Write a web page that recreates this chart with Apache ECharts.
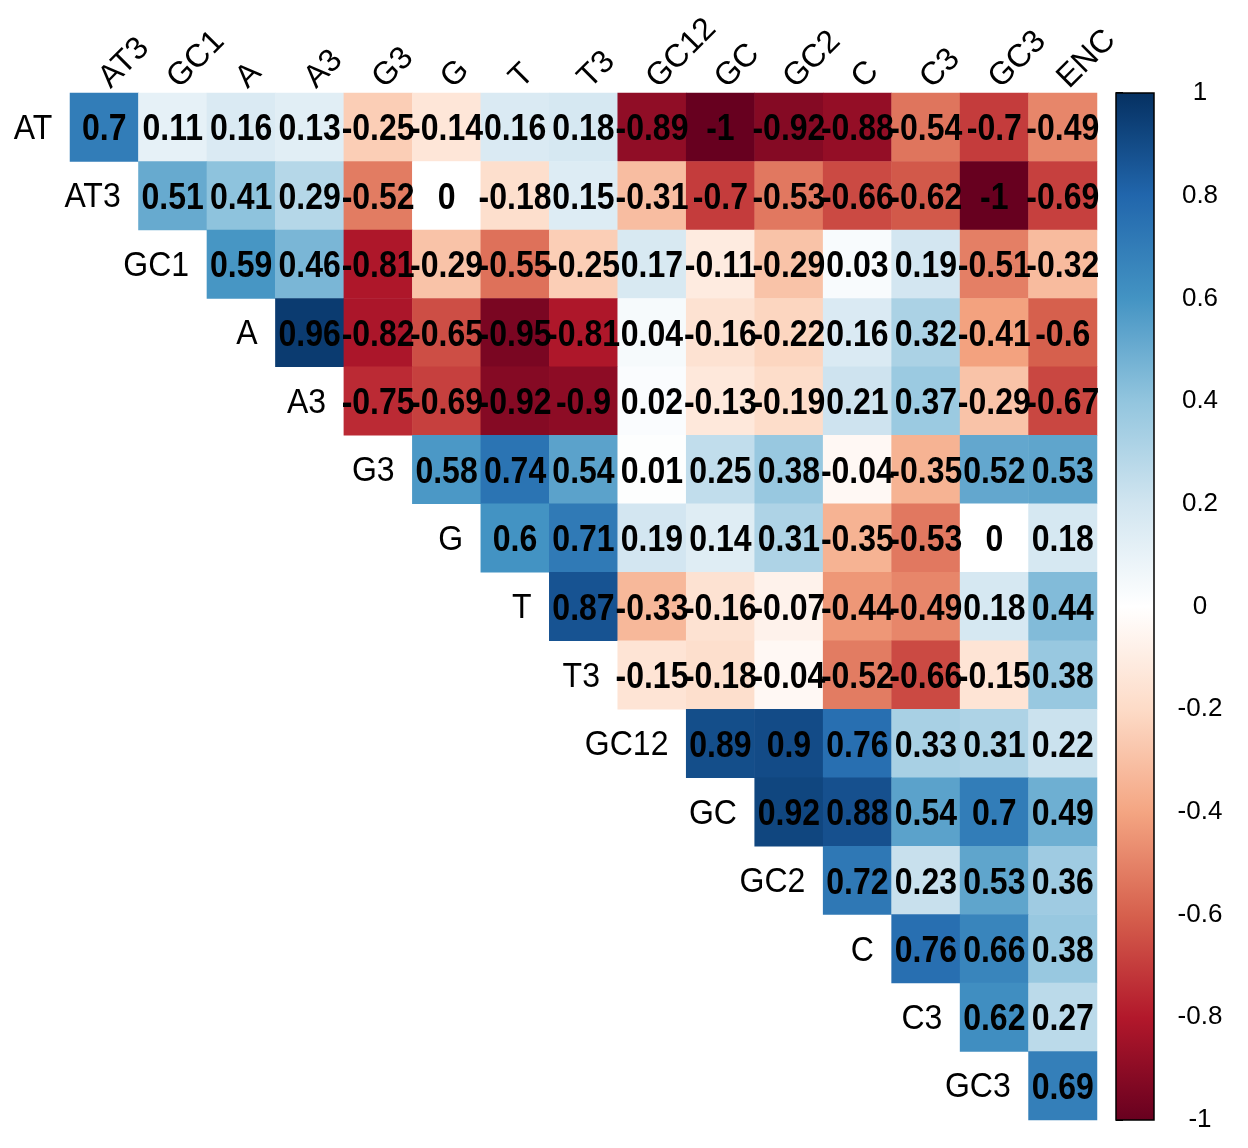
<!DOCTYPE html>
<html>
<head>
<meta charset="utf-8">
<style>
html, body { margin: 0; padding: 0; background: #fff; }
#main { width: 1248px; height: 1148px; }
</style>
<script src="https://cdn.jsdelivr.net/npm/echarts@6/dist/echarts.min.js"></script>
</head>
<body>
<div id="main"></div>
<script>
var chart = echarts.init(document.getElementById('main'));

var rowNames = ['AT', 'AT3', 'GC1', 'A', 'A3', 'G3', 'G', 'T', 'T3', 'GC12', 'GC', 'GC2', 'C', 'C3', 'GC3'];
var colNames = ['AT3', 'GC1', 'A', 'A3', 'G3', 'G', 'T', 'T3', 'GC12', 'GC', 'GC2', 'C', 'C3', 'GC3', 'ENC'];

// upper triangle: each row starts at its own diagonal column
var corrAT   = [0.7, 0.11, 0.16, 0.13, -0.25, -0.14, 0.16, 0.18, -0.89, -1, -0.92, -0.88, -0.54, -0.7, -0.49];
var corrAT3  = [0.51, 0.41, 0.29, -0.52, 0, -0.18, 0.15, -0.31, -0.7, -0.53, -0.66, -0.62, -1, -0.69];
var corrGC1  = [0.59, 0.46, -0.81, -0.29, -0.55, -0.25, 0.17, -0.11, -0.29, 0.03, 0.19, -0.51, -0.32];
var corrA    = [0.96, -0.82, -0.65, -0.95, -0.81, 0.04, -0.16, -0.22, 0.16, 0.32, -0.41, -0.6];
var corrA3   = [-0.75, -0.69, -0.92, -0.9, 0.02, -0.13, -0.19, 0.21, 0.37, -0.29, -0.67];
var corrG3   = [0.58, 0.74, 0.54, 0.01, 0.25, 0.38, -0.04, -0.35, 0.52, 0.53];
var corrG    = [0.6, 0.71, 0.19, 0.14, 0.31, -0.35, -0.53, 0, 0.18];
var corrT    = [0.87, -0.33, -0.16, -0.07, -0.44, -0.49, 0.18, 0.44];
var corrT3   = [-0.15, -0.18, -0.04, -0.52, -0.66, -0.15, 0.38];
var corrGC12 = [0.89, 0.9, 0.76, 0.33, 0.31, 0.22];
var corrGC   = [0.92, 0.88, 0.54, 0.7, 0.49];
var corrGC2  = [0.72, 0.23, 0.53, 0.36];
var corrC    = [0.76, 0.66, 0.38];
var corrC3   = [0.62, 0.27];
var corrGC3  = [0.69];

var corrRows = [corrAT, corrAT3, corrGC1, corrA, corrA3, corrG3, corrG, corrT, corrT3,
    corrGC12, corrGC, corrGC2, corrC, corrC3, corrGC3];

// RdBu, from -1 to 1
var colorList = ['#67001F', '#B2182B', '#D6604D', '#F4A582', '#FDDBC7', '#FFFFFF',
    '#D1E5F0', '#92C5DE', '#4393C3', '#2166AC', '#053061'];

var font = "'Liberation Sans', Arial, sans-serif";

var cells = [];
var rowLabels = [];
corrRows.forEach(function (vals, r) {
    vals.forEach(function (v, k) {
        cells.push([r + k, r, v]);
    });
    rowLabels.push([r, r]);
});

// colour bar gradient, top = 1
var stops = colorList.map(function (c, i) {
    return { offset: 1 - i / (colorList.length - 1), color: c };
}).reverse();

var option = {
    backgroundColor: '#fff',
    animation: false,
    grid: [
        { left: 70, top: 93, width: 1027, height: 1027 },
        { left: 1116, top: 93, width: 38, height: 1027 }
    ],
    xAxis: [{
        type: 'category',
        data: colNames,
        position: 'top',
        axisLine: { show: false },
        axisTick: { show: false },
        splitLine: { show: false },
        axisLabel: {
            rotate: -45,
            margin: 10,
            fontSize: 32,
            color: '#000',
            fontFamily: font,
            interval: 0
        }
    }, {
        gridIndex: 1,
        type: 'value',
        min: 0,
        max: 1,
        show: false
    }],
    yAxis: [{
        type: 'category',
        data: rowNames,
        inverse: true,
        axisLine: { show: false },
        axisTick: { show: false },
        axisLabel: { show: false },
        splitLine: { show: false }
    }, {
        gridIndex: 1,
        type: 'value',
        min: -1,
        max: 1,
        interval: 0.2,
        position: 'right',
        axisLine: { show: false },
        splitLine: { show: false },
        axisTick: { show: true, length: 7, lineStyle: { color: '#000', width: 2 } },
        axisLabel: {
            margin: 46,
            align: 'center',
            fontSize: 26,
            color: '#000',
            fontFamily: font,
            padding: [6, 0, 0, 0]
        }
    }],
    visualMap: {
        show: false,
        type: 'continuous',
        min: -1,
        max: 1,
        seriesIndex: 0,
        dimension: 2,
        inRange: { color: colorList }
    },
    series: [{
        type: 'heatmap',
        data: cells,
        itemStyle: { borderWidth: 0 },
        label: { show: false },
        emphasis: { disabled: true }
    }, {
        // correlation values, tall bold text like the original
        type: 'custom',
        data: cells,
        silent: true,
        z: 3,
        renderItem: function (params, api) {
            var p = api.coord([api.value(0), api.value(1)]);
            return {
                type: 'text',
                x: p[0],
                y: p[1] + 3,
                scaleY: 1.15,
                style: {
                    text: String(api.value(2)),
                    fill: '#000',
                    font: 'bold 32px ' + font,
                    align: 'center',
                    verticalAlign: 'middle'
                }
            };
        }
    }, {
        // row names, placed just left of each diagonal cell
        type: 'custom',
        data: rowLabels,
        silent: true,
        z: 3,
        renderItem: function (params, api) {
            var p = api.coord([api.value(0), api.value(1)]);
            return {
                type: 'text',
                x: p[0] - 52,
                y: p[1] + 2,
                scaleY: 1.1,
                style: {
                    text: rowNames[params.dataIndex],
                    fill: '#000',
                    font: '32px ' + font,
                    align: 'right',
                    verticalAlign: 'middle'
                }
            };
        }
    }, {
        type: 'custom',
        xAxisIndex: 1,
        yAxisIndex: 1,
        silent: true,
        data: [[0, -1, 1, 1]],
        encode: { x: [0, 2], y: [1, 3] },
        renderItem: function (params, api) {
            var p0 = api.coord([api.value(0), api.value(3)]);
            var p1 = api.coord([api.value(2), api.value(1)]);
            return {
                type: 'rect',
                shape: { x: p0[0], y: p0[1], width: p1[0] - p0[0], height: p1[1] - p0[1] },
                style: {
                    fill: new echarts.graphic.LinearGradient(0, 0, 0, 1, stops),
                    stroke: '#000',
                    lineWidth: 1.5
                }
            };
        }
    }]
};

chart.setOption(option);
</script>
</body>
</html>
